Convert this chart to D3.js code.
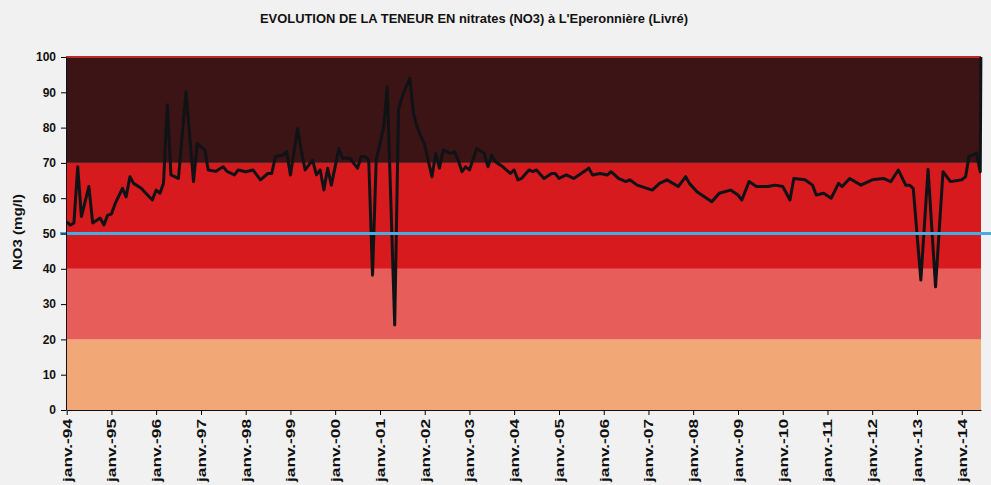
<!DOCTYPE html>
<html>
<head>
<meta charset="utf-8">
<script src="https://cdn.jsdelivr.net/npm/d3@7"></script>
<style>
body{margin:0;background:#f1f1f1;}
svg{display:block;}
text{font-family:"Liberation Sans",Arial,sans-serif;font-weight:bold;fill:#111;}
</style>
</head>
<body>
<svg id="chart" width="991" height="485"></svg>
<script>
let title = "EVOLUTION DE LA TENEUR EN nitrates (NO3) à L'Eperonnière (Livré)";
let yTitle = "NO3 (mg/l)";

// measures
let dates = ["1994-01","1994-02","1994-03","1994-04","1994-05","1994-07","1994-08","1994-10","1994-11","1994-12",
  "1995-01","1995-02","1995-04","1995-05","1995-06","1995-07","1995-09","1995-12",
  "1996-01","1996-02","1996-03","1996-04","1996-05","1996-07","1996-09","1996-11","1996-12",
  "1997-02","1997-03","1997-05","1997-07","1997-08","1997-10","1997-11",
  "1998-01","1998-03","1998-04","1998-05","1998-07","1998-08","1998-09","1998-11","1998-12",
  "1999-01","1999-03","1999-04","1999-05","1999-07","1999-08","1999-09","1999-10","1999-11","1999-12",
  "2000-02","2000-03","2000-05","2000-07","2000-08","2000-09","2000-10","2000-11","2000-12",
  "2001-02","2001-03","2001-05","2001-06","2001-07","2001-09","2001-10","2001-11",
  "2002-01","2002-03","2002-04","2002-05","2002-06","2002-08","2002-09","2002-10","2002-11","2002-12",
  "2003-01","2003-03","2003-05","2003-06","2003-07","2003-08","2003-10","2003-12",
  "2004-01","2004-02","2004-03","2004-05","2004-06","2004-07","2004-09","2004-11","2004-12",
  "2005-01","2005-03","2005-05","2005-07","2005-09","2005-10","2005-12",
  "2006-02","2006-03","2006-04","2006-05","2006-07","2006-08","2006-10",
  "2007-02","2007-04","2007-06","2007-09","2007-11","2007-12",
  "2008-02","2008-06","2008-08","2008-11",
  "2009-01","2009-02","2009-04","2009-06","2009-09","2009-11",
  "2010-01","2010-03","2010-04","2010-07","2010-09","2010-10","2010-12",
  "2011-02","2011-04","2011-05","2011-07","2011-10",
  "2012-01","2012-04","2012-06","2012-08","2012-10","2012-11","2012-12",
  "2013-02","2013-04","2013-06","2013-08","2013-10",
  "2014-01","2014-02","2014-03","2014-05","2014-06","2014-06-06"];
let values = [53.3,52.4,53,68.9,54.8,63.3,53,54.4,52.4,55.2,
  55.5,58.5,62.8,60.4,66.1,64.2,62.8,59.5,
  62.3,61.4,64.2,86.4,66.6,65.6,90.2,64.7,75.5,
  73.7,68,67.6,68.9,67.6,66.6,68,
  67.5,68,66.6,65.2,67,67,71.8,72.2,73.2,
  66.6,79.8,73.2,68,70.8,66.6,68,62.3,68.5,63.7,
  74.1,71.3,71.3,68.5,71.8,71.8,70.8,38.2,70.8,
  80.3,91.6,24.1,85,88.8,94,84,80,
  75,66.1,72.7,68.5,73.7,72.7,73.2,70.8,67.5,68.9,
  68,74.1,72.7,68.9,72.2,70.3,68.9,67,
  68,65.2,65.6,68,67.5,68,65.6,67,67,
  65.6,66.6,65.6,67,68.5,66.6,67,
  66.6,67.5,66.6,65.6,64.7,65.2,63.7,
  62.3,64.2,65.2,63.3,66.1,64.2,
  61.8,59,61.4,62.3,
  60.9,59.5,64.7,63.3,63.3,63.7,
  63.3,59.5,65.6,65.2,63.7,60.9,61.4,
  60,64.2,63.3,65.6,63.7,
  65.2,65.6,64.7,68,63.7,63.7,62.8,
  36.8,68.2,34.9,67.5,64.7,
  65.2,66.1,71.8,72.7,67.5,100];

let yTicks = [0,10,20,30,40,50,60,70,80,90,100];
let bandLimits = [0,20,40,70,100];
let bandColors = ["#f2a776","#e65d59","#d71a1d","#3c1416"];
let limitValue = 50;

let plotLeft = 66, plotRight = 981, plotTop = 57, plotBottom = 410;

let parseMonth = d3.utcParse("%Y-%m");
let parseDay = d3.utcParse("%Y-%m-%d");
let data = dates.map((d, i) => ({date: d.length > 7 ? parseDay(d) : parseMonth(d), value: values[i]}));

let svg = d3.select("#chart");

let x = d3.scaleUtc()
  .domain([new Date(Date.UTC(1994, 0, 1)), new Date(Date.UTC(2014, 5, 7))])
  .range([plotLeft + 0.7, plotRight]);
let y = d3.scaleLinear().domain([0, 100]).range([plotBottom, plotTop]);

// bands
svg.selectAll("rect.band")
  .data(bandColors)
  .enter()
  .append("rect")
  .attr("class", "band")
  .attr("x", plotLeft)
  .attr("width", plotRight - plotLeft)
  .attr("y", (d, i) => y(bandLimits[i + 1]))
  .attr("height", (d, i) => y(bandLimits[i]) - y(bandLimits[i + 1]))
  .attr("fill", d => d);

svg.append("line")
  .attr("x1", plotLeft).attr("x2", plotRight)
  .attr("y1", y(100)).attr("y2", y(100))
  .attr("stroke", "#b8292b").attr("stroke-width", 2);

// measures
let line = d3.line().x(d => x(d.date)).y(d => y(d.value));
svg.append("path")
  .datum(data)
  .attr("d", line)
  .attr("fill", "none")
  .attr("stroke", "#101316")
  .attr("stroke-width", 3)
  .attr("stroke-linejoin", "round");

// 50 mg/l limit
svg.append("line")
  .attr("x1", plotLeft - 6).attr("x2", 991)
  .attr("y1", y(limitValue)).attr("y2", y(limitValue))
  .attr("stroke", "#46ade2").attr("stroke-width", 3);

// axes
let yAxis = d3.axisLeft(y).tickValues(yTicks).tickSize(5).tickSizeOuter(0);
let gy = svg.append("g").attr("transform", "translate(" + plotLeft + ",0)").call(yAxis);
gy.selectAll("text").attr("font-size", 12).attr("dx", "-2");
gy.select(".domain").attr("stroke", "#111");

let xAxis = d3.axisBottom(x)
  .ticks(d3.utcYear.every(1))
  .tickFormat(d3.utcFormat("janv.-%y"))
  .tickSize(5)
  .tickSizeOuter(0);
let gx = svg.append("g").attr("transform", "translate(0," + plotBottom + ")").call(xAxis);
gx.select(".domain").attr("stroke", "#111");
gx.selectAll("text")
  .attr("font-size", 12.5)
  .attr("transform", "rotate(-90)")
  .attr("text-anchor", "end")
  .attr("x", -9)
  .attr("y", 0)
  .attr("dy", "0.35em")
  .attr("textLength", 63)
  .attr("lengthAdjust", "spacingAndGlyphs");
svg.selectAll("g text").style("font-family", "'Liberation Sans',Arial,sans-serif").style("font-weight", "bold");

// texts
svg.append("text")
  .attr("x", 474).attr("y", 23)
  .attr("text-anchor", "middle")
  .attr("font-size", 13.5)
  .attr("textLength", 428)
  .attr("lengthAdjust", "spacingAndGlyphs")
  .text(title);

svg.append("text")
  .attr("transform", "translate(22,232) rotate(-90)")
  .attr("text-anchor", "middle")
  .attr("font-size", 12)
  .attr("textLength", 76)
  .attr("lengthAdjust", "spacingAndGlyphs")
  .text(yTitle);
</script>
</body>
</html>
